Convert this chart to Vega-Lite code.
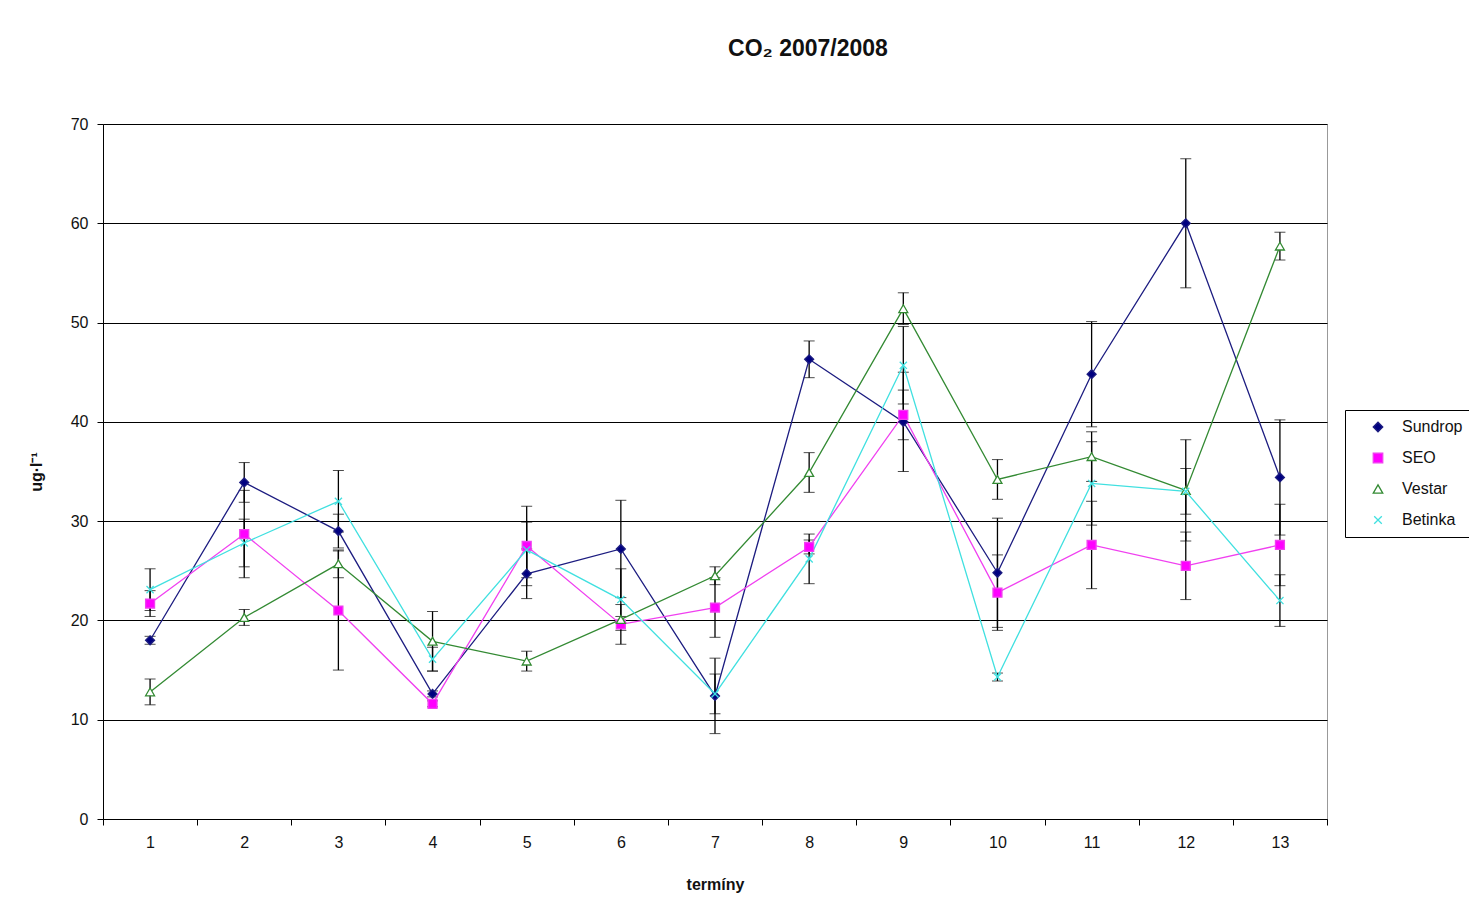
{
  "$schema": "https://vega.github.io/schema/vega-lite/v6.json",
  "autosize": "none",
  "width": 1224,
  "height": 695,
  "padding": {"left": 103, "top": 124, "right": 142, "bottom": 97},
  "background": "white",
  "config": {
    "font": "Liberation Sans",
    "view": {"stroke": "#999999", "strokeWidth": 1},
    "axis": {"labelFont": "Liberation Sans", "titleFont": "Liberation Sans", "labelColor": "#111", "titleColor": "#111", "domainColor": "#000", "tickColor": "#000", "labelFontSize": 16, "titleFontSize": 16}
  },
  "title": {"text": "CO₂ 2007/2008", "font": "Liberation Sans", "fontSize": 23, "fontWeight": "bold", "color": "#111", "anchor": "middle", "dx": 93, "offset": 55},
  "data": {"values": [
    {"t": 1, "series": "Sundrop", "v": 18.0, "e": 0.4},
    {"t": 2, "series": "Sundrop", "v": 33.9, "e": 2.0},
    {"t": 3, "series": "Sundrop", "v": 29.0, "e": 1.7},
    {"t": 4, "series": "Sundrop", "v": 12.6, "e": 0.3},
    {"t": 5, "series": "Sundrop", "v": 24.7, "e": 2.5},
    {"t": 6, "series": "Sundrop", "v": 27.2, "e": 4.9},
    {"t": 7, "series": "Sundrop", "v": 12.4, "e": 3.8},
    {"t": 8, "series": "Sundrop", "v": 46.3, "e": 1.85},
    {"t": 9, "series": "Sundrop", "v": 40.0, "e": 5.0},
    {"t": 10, "series": "Sundrop", "v": 24.8, "e": 5.5},
    {"t": 11, "series": "Sundrop", "v": 44.8, "e": 5.3},
    {"t": 12, "series": "Sundrop", "v": 60.0, "e": 6.5},
    {"t": 13, "series": "Sundrop", "v": 34.4, "e": 5.8},
    {"t": 1, "series": "SEO", "v": 21.7, "e": 1.3},
    {"t": 2, "series": "SEO", "v": 28.7, "e": 4.4},
    {"t": 3, "series": "SEO", "v": 21.0, "e": 6.0},
    {"t": 4, "series": "SEO", "v": 11.6, "e": 0.3},
    {"t": 5, "series": "SEO", "v": 27.5, "e": 4.0},
    {"t": 6, "series": "SEO", "v": 19.6, "e": 2.0},
    {"t": 7, "series": "SEO", "v": 21.3, "e": 3.0},
    {"t": 8, "series": "SEO", "v": 27.4, "e": 0.7},
    {"t": 9, "series": "SEO", "v": 40.7, "e": 2.5},
    {"t": 10, "series": "SEO", "v": 22.8, "e": 3.8},
    {"t": 11, "series": "SEO", "v": 27.6, "e": 4.4},
    {"t": 12, "series": "SEO", "v": 25.5, "e": 3.4},
    {"t": 13, "series": "SEO", "v": 27.6, "e": 4.1},
    {"t": 1, "series": "Vestar", "v": 12.8, "e": 1.3},
    {"t": 2, "series": "Vestar", "v": 20.3, "e": 0.8},
    {"t": 3, "series": "Vestar", "v": 25.7, "e": 1.4},
    {"t": 4, "series": "Vestar", "v": 17.9, "e": 3.0},
    {"t": 5, "series": "Vestar", "v": 15.9, "e": 1.0},
    {"t": 6, "series": "Vestar", "v": 20.1, "e": 0.3},
    {"t": 7, "series": "Vestar", "v": 24.5, "e": 0.9},
    {"t": 8, "series": "Vestar", "v": 34.9, "e": 2.0},
    {"t": 9, "series": "Vestar", "v": 51.4, "e": 1.6},
    {"t": 10, "series": "Vestar", "v": 34.2, "e": 2.0},
    {"t": 11, "series": "Vestar", "v": 36.5, "e": 2.5},
    {"t": 12, "series": "Vestar", "v": 33.1, "e": 5.1},
    {"t": 13, "series": "Vestar", "v": 57.7, "e": 1.4},
    {"t": 1, "series": "Betinka", "v": 23.1, "e": 2.1},
    {"t": 2, "series": "Betinka", "v": 27.8, "e": 2.4},
    {"t": 3, "series": "Betinka", "v": 32.0, "e": 3.1},
    {"t": 4, "series": "Betinka", "v": 16.1, "e": 1.2},
    {"t": 5, "series": "Betinka", "v": 27.1, "e": 2.8},
    {"t": 6, "series": "Betinka", "v": 22.1, "e": 3.1},
    {"t": 7, "series": "Betinka", "v": 12.6, "e": 2.0},
    {"t": 8, "series": "Betinka", "v": 26.2, "e": 2.5},
    {"t": 9, "series": "Betinka", "v": 45.7, "e": 3.9},
    {"t": 10, "series": "Betinka", "v": 14.3, "e": 0.4},
    {"t": 11, "series": "Betinka", "v": 33.8, "e": 4.2},
    {"t": 12, "series": "Betinka", "v": 33.0, "e": 2.3},
    {"t": 13, "series": "Betinka", "v": 22.0, "e": 2.6}
  ]},
  "encoding": {
    "x": {"field": "t", "type": "ordinal", "scale": {"type": "band", "paddingInner": 0, "paddingOuter": 0},
      "axis": {"title": "termíny", "titleFontWeight": "bold", "titlePadding": 26, "labelAngle": 0, "labelPadding": 9, "tickBand": "extent", "tickSize": 6, "grid": false}}
  },
  "layer": [
    {
      "mark": {"type": "errorbar", "ticks": {"size": 11, "color": "#000", "strokeWidth": 1.3}, "rule": {"color": "#000", "strokeWidth": 1.3}},
      "encoding": {
        "y": {"field": "v", "type": "quantitative", "scale": {"domain": [0, 70], "nice": false},
          "axis": {"title": "ug·l⁻¹", "titleFontWeight": "bold", "titlePadding": 26, "values": [0, 10, 20, 30, 40, 50, 60, 70], "grid": true, "gridColor": "#000", "gridOpacity": 1, "gridWidth": 1.2, "tickSize": 6, "labelPadding": 9}},
        "yError": {"field": "e"}
      }
    },
    {
      "mark": {"type": "line", "strokeWidth": 1.3},
      "encoding": {
        "y": {"field": "v", "type": "quantitative"},
        "stroke": {"field": "series", "type": "nominal", "sort": ["Sundrop", "SEO", "Vestar", "Betinka"],
          "scale": {"domain": ["Sundrop", "SEO", "Vestar", "Betinka"], "range": ["#1c1c80", "#f040f0", "#338a33", "#40e0e0"]}, "title": null}
      }
    },
    {
      "mark": {"type": "point", "size": 80, "strokeWidth": 1.3, "opacity": 1, "filled": false},
      "encoding": {
        "y": {"field": "v", "type": "quantitative"},
        "shape": {"field": "series", "type": "nominal", "sort": ["Sundrop", "SEO", "Vestar", "Betinka"],
          "scale": {"domain": ["Sundrop", "SEO", "Vestar", "Betinka"], "range": ["diamond", "square", "triangle-up", "M-0.8,-0.8L0.8,0.8M-0.8,0.8L0.8,-0.8"]}, "title": null},
        "fill": {"field": "series", "type": "nominal", "sort": ["Sundrop", "SEO", "Vestar", "Betinka"],
          "scale": {"domain": ["Sundrop", "SEO", "Vestar", "Betinka"], "range": ["#000080", "#ff00ff", "#ffffff", "#ffffff00"]}, "title": null},
        "stroke": {"field": "series", "type": "nominal", "sort": ["Sundrop", "SEO", "Vestar", "Betinka"], "title": null,
          "legend": {"orient": "none", "legendX": 1242, "legendY": 286, "strokeColor": "#000", "fillColor": "#fff", "padding": 9, "labelFontSize": 16, "labelFont": "Liberation Sans", "labelColor": "#111", "symbolSize": 90, "symbolStrokeWidth": 1.3, "symbolOffset": 16, "rowPadding": 15, "labelOffset": 16, "cornerRadius": 0}}
      }
    }
  ]
}
